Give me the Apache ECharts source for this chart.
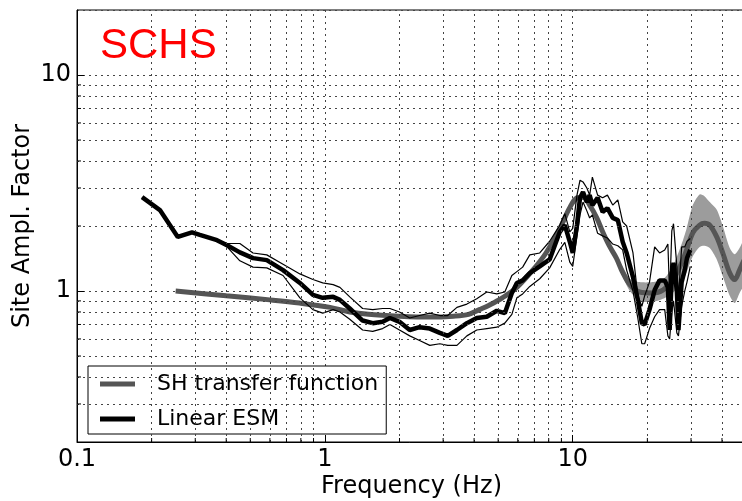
<!DOCTYPE html>
<html lang="en">

  <head>
    <meta charset="UTF-8">
    <title>SCHS site amplification</title>
    <style>
      html, body { margin: 0; padding: 0; background: #fff; }
      #main { width: 742px; height: 501px; }
    </style>
  </head>

  <body>
    <div id="main"></div>
  </body>
  <script type="text/javascript" src="https://cdn.jsdelivr.net/npm/echarts@6/dist/echarts.min.js"></script>

  <script type="text/javascript">
    // Linear ESM (mean and +/- one sigma), frequencies in Hz
    var esmFreq = [0.183, 0.216, 0.255, 0.291, 0.313, 0.367, 0.403, 0.454, 0.513, 0.583, 0.678, 0.793, 0.895, 0.98, 1.08, 1.15, 1.26, 1.42, 1.56, 1.71,
      1.83, 2.0, 2.2, 2.41, 2.65, 2.91, 3.13, 3.41, 3.74, 4.1, 4.5, 4.94, 5.32, 5.68, 5.95, 6.28, 6.71, 7.36, 8.07, 8.87,
      9.29, 9.73, 10.0, 10.4, 10.7, 11.0, 11.4, 11.7, 12.0, 12.6, 13.2, 13.8, 14.5, 15.2, 15.9, 16.5, 17.5, 18.3, 19.0, 19.5,
      20.4, 21.4, 22.4, 23.5, 24.2, 24.6, 25.1, 25.5, 26.3, 26.7, 27.5, 28.3, 28.9, 29.8];
    var esmMean = [2.72, 2.37, 1.78, 1.87, 1.82, 1.72, 1.63, 1.51, 1.42, 1.39, 1.25, 1.09, 0.96, 0.93, 0.94, 0.91, 0.83, 0.73, 0.71, 0.72,
      0.75, 0.72, 0.66, 0.68, 0.67, 0.64, 0.62, 0.66, 0.71, 0.75, 0.76, 0.81, 0.79, 0.98, 1.09, 1.12, 1.21, 1.30, 1.40, 1.88,
      2.02, 1.69, 1.50, 2.02, 2.70, 2.87, 2.58, 2.78, 2.50, 2.70, 2.32, 2.42, 2.18, 2.13, 1.69, 1.50, 1.16, 0.91, 0.71, 0.70,
      0.82, 1.01, 1.12, 1.12, 1.04, 0.66, 1.20, 1.35, 1.00, 0.66, 1.10, 1.25, 1.42, 1.55];
    var esmUpper = [2.72, 2.37, 1.78, 1.87, 1.82, 1.72, 1.66, 1.66, 1.50, 1.47, 1.33, 1.20, 1.13, 1.09, 1.07, 1.04, 0.94, 0.83, 0.82, 0.83,
      0.83, 0.80, 0.75, 0.77, 0.79, 0.77, 0.77, 0.84, 0.87, 0.92, 0.99, 0.97, 0.99, 1.18, 1.23, 1.29, 1.47, 1.50, 1.70, 2.02,
      2.28, 1.88, 1.95, 2.78, 3.26, 3.20, 3.00, 2.78, 3.37, 2.78, 2.70, 2.78, 2.50, 2.64, 2.09, 2.00, 1.50, 0.95, 0.85, 0.95,
      1.10, 1.60, 1.50, 1.55, 1.65, 0.95, 1.90, 2.05, 1.30, 0.93, 1.60, 1.60, 1.70, 1.75];
    var esmLower = [2.72, 2.37, 1.78, 1.87, 1.82, 1.72, 1.60, 1.38, 1.29, 1.28, 1.18, 0.93, 0.82, 0.79, 0.82, 0.80, 0.74, 0.66, 0.65, 0.67,
      0.70, 0.66, 0.62, 0.59, 0.56, 0.57, 0.56, 0.56, 0.62, 0.66, 0.67, 0.68, 0.71, 0.78, 0.93, 0.97, 1.05, 1.14, 1.28, 1.56,
      1.68, 1.36, 1.30, 1.80, 2.25, 2.58, 2.35, 2.18, 2.25, 1.85, 1.80, 1.76, 1.65, 1.62, 1.55, 1.25, 1.00, 0.75, 0.57, 0.57,
      0.67, 0.76, 0.82, 0.82, 0.62, 0.60, 0.80, 0.90, 0.64, 0.62, 0.85, 1.00, 1.10, 1.30];

    // SH transfer function
    var shFreq = [0.25, 0.4, 0.6, 0.79, 1.05, 1.26, 1.5, 2.0, 2.65, 3.3, 3.8, 4.2, 4.6, 5.2, 5.95, 6.9, 7.8, 8.9, 9.7, 10.4,
      11.0, 11.7, 12.5, 13.2, 14.0, 15.0, 15.9, 17.0, 18.6, 21.0, 23.1, 25.3, 27.5, 28.8, 30.5, 32.5, 34.0, 35.7, 38.1, 40.3,
      43.0, 45.0, 47.1, 48.1, 50];
    var shAmp = [1.0, 0.95, 0.91, 0.88, 0.84, 0.80, 0.78, 0.765, 0.758, 0.765, 0.78, 0.82, 0.86, 0.93, 1.04, 1.25, 1.50, 1.96, 2.42, 2.70,
      2.72, 2.50, 2.18, 1.88, 1.63, 1.42, 1.22, 1.07, 0.99, 0.98, 1.01, 1.12, 1.35, 1.55, 1.86, 2.02, 2.06, 2.02, 1.78, 1.50,
      1.21, 1.13, 1.25, 1.32, 1.45];

    // uncertainty band of the SH transfer function
    var bandFreq = [14.0, 15.0, 16.0, 17.0, 18.6, 21.0, 23.1, 25.3, 27.5, 28.8, 30.5, 32.5, 34.0, 35.7, 38.1, 40.3, 43.0, 45.0, 47.1, 50];
    var bandLo = [1.60, 1.38, 1.15, 1.00, 0.90, 0.89, 0.92, 0.98, 1.08, 1.22, 1.45, 1.60, 1.62, 1.58, 1.40, 1.17, 0.95, 0.88, 0.98, 1.12];
    var bandHi = [1.66, 1.46, 1.28, 1.14, 1.10, 1.10, 1.13, 1.30, 1.65, 1.95, 2.50, 2.80, 2.75, 2.58, 2.38, 2.00, 1.58, 1.48, 1.58, 1.80];

    // minor grid values
    var xMinor = [0.2, 0.3, 0.4, 0.5, 0.6, 0.7, 0.8, 0.9, 2, 3, 4, 5, 6, 7, 8, 9, 20, 30, 40];
    var yMinor = [0.3, 0.4, 0.5, 0.6, 0.7, 0.8, 0.9, 2, 3, 4, 5, 6, 7, 8, 9];

    var X_MIN = 0.1, X_MAX = 50, Y_MIN = 0.2, Y_MAX = 20;

    function pairs(xs, ys) {
      return xs.map(function (x, i) { return [x, ys[i]]; });
    }

    var dotted = { color: '#444', width: 1, type: [2, 4] };
    var font = 'DejaVu Sans';

    var myChart = echarts.init(document.getElementById('main'), null, { renderer: 'canvas' });

    var option = {
      animation: false,
      backgroundColor: '#fff',
      title: {
        text: 'SCHS',
        left: 100, top: 25, padding: 0,
        textStyle: { color: '#ff0000', fontSize: 42, fontWeight: 'normal', fontFamily: 'Liberation Sans' }
      },
      legend: {
        orient: 'vertical',
        left: 88, top: 366,
        padding: [5, 8, 2, 12],
        itemGap: 9,
        itemWidth: 35, itemHeight: 5,
        backgroundColor: '#fff',
        borderColor: '#000', borderWidth: 1, borderRadius: 0,
        textStyle: { fontFamily: font, fontSize: 22, color: '#000', lineHeight: 26, padding: [0, 0, 0, 17] },
        data: [{ name: 'SH transfer function', icon: 'rect' }, { name: 'Linear ESM', icon: 'rect' }]
      },
      grid: {
        left: 77, top: 10, width: 669, height: 432,
        outerBoundsMode: 'none', containLabel: false,
        show: true, borderColor: '#000', borderWidth: 1, backgroundColor: 'transparent'
      },
      xAxis: {
        type: 'log', logBase: 10, min: X_MIN, max: X_MAX,
        name: 'Frequency (Hz)', nameLocation: 'middle', nameGap: 33, nameMoveOverlap: false,
        nameTextStyle: { fontFamily: font, fontSize: 24, color: '#000' },
        axisLine: { lineStyle: { color: '#000', width: 1 } },
        axisTick: { inside: true, length: 7, lineStyle: { color: '#000' } },
        axisLabel: { fontFamily: font, fontSize: 24, color: '#000', margin: 6, showMaxLabel: false },
        splitLine: { show: true, lineStyle: dotted }
      },
      yAxis: {
        type: 'log', logBase: 10, min: Y_MIN, max: Y_MAX,
        name: 'Site Ampl. Factor', nameLocation: 'middle', nameGap: 42, nameRotate: 90, nameMoveOverlap: false,
        nameTextStyle: { fontFamily: font, fontSize: 24, color: '#000' },
        axisLine: { lineStyle: { color: '#000', width: 1 } },
        axisTick: { inside: true, length: 7, lineStyle: { color: '#000' } },
        axisLabel: { fontFamily: font, fontSize: 24, color: '#000', margin: 6, showMinLabel: false, showMaxLabel: false },
        splitLine: { show: true, lineStyle: dotted }
      },
      series: [
        {
          // minor dotted grid lines
          type: 'line', name: 'grid', data: [], silent: true, z: 0,
          markLine: {
            silent: true, symbol: 'none', label: { show: false },
            lineStyle: dotted,
            data: xMinor.map(function (v) { return { xAxis: v }; })
              .concat(yMinor.map(function (v) { return { yAxis: v }; }))
          }
        },
        {
          // minor ticks on the bottom axis
          type: 'custom', name: 'xticks', silent: true, z: 5,
          data: xMinor.map(function (v) { return [v, Y_MIN]; }),
          renderItem: function (params, api) {
            var p = api.coord([api.value(0), Y_MIN]);
            return { type: 'line', shape: { x1: p[0], y1: p[1], x2: p[0], y2: p[1] - 4 }, style: { stroke: '#000', lineWidth: 1 } };
          }
        },
        {
          // minor ticks on the left axis
          type: 'custom', name: 'yticks', silent: true, z: 5,
          data: yMinor.map(function (v) { return [X_MIN, v]; }),
          renderItem: function (params, api) {
            var p = api.coord([X_MIN, api.value(1)]);
            return { type: 'line', shape: { x1: p[0], y1: p[1], x2: p[0] + 4, y2: p[1] }, style: { stroke: '#000', lineWidth: 1 } };
          }
        },
        {
          type: 'custom', name: 'SH band', silent: true, z: 2, clip: true,
          data: [[bandFreq[0], bandLo[0]]],
          renderItem: function (params, api) {
            var pts = [];
            for (var i = 0; i < bandFreq.length; i++) pts.push(api.coord([bandFreq[i], bandHi[i]]));
            for (var j = bandFreq.length - 1; j >= 0; j--) pts.push(api.coord([bandFreq[j], bandLo[j]]));
            return { type: 'polygon', shape: { points: pts, smooth: 0.25 }, style: { fill: '#9c9c9c' } };
          }
        },
        {
          type: 'line', name: 'SH transfer function', z: 3,
          data: pairs(shFreq, shAmp),
          color: '#555555', smooth: 0.35, showSymbol: false, symbol: 'none', clip: true,
          lineStyle: { color: '#555555', width: 5 }
        },
        {
          type: 'line', name: 'ESM upper', z: 4,
          data: pairs(esmFreq, esmUpper),
          color: '#000', showSymbol: false, symbol: 'none',
          lineStyle: { color: '#000', width: 1.2 }
        },
        {
          type: 'line', name: 'ESM lower', z: 4,
          data: pairs(esmFreq, esmLower),
          color: '#000', showSymbol: false, symbol: 'none',
          lineStyle: { color: '#000', width: 1.2 }
        },
        {
          type: 'line', name: 'Linear ESM', z: 4,
          data: pairs(esmFreq, esmMean),
          color: '#000', showSymbol: false, symbol: 'none',
          lineStyle: { color: '#000', width: 4.5 }
        }
      ]
    };

    myChart.setOption(option);
  </script>

</html>
